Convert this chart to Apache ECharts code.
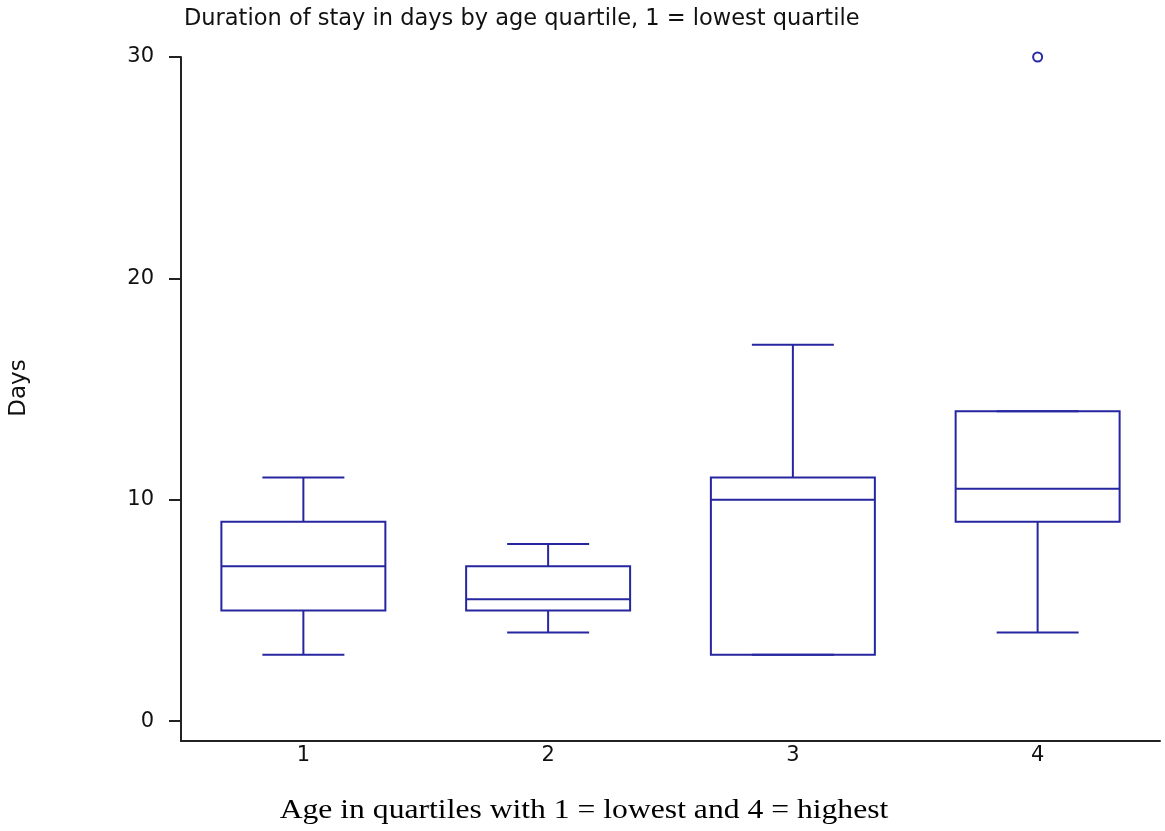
<!DOCTYPE html>
<html>
<head>
<meta charset="utf-8">
<script src="https://cdn.jsdelivr.net/npm/echarts@6/dist/echarts.min.js"></script>
<style>
html,body{margin:0;padding:0;background:#fff;}
#chart{width:1165px;height:831px;}
</style>
</head>
<body>
<div id="chart"></div>
<script>
// Data
var categories = ['1', '2', '3', '4'];
var minValues = [3, 4, 3, 4];
var q1Values = [5, 5, 3, 9];
var medianValues = [7, 5.5, 10, 10.5];
var q3Values = [9, 7, 11, 14];
var maxValues = [11, 8, 17, 14];
var outlierCats = ['4'];
var outlierValues = [30];
var yTickValues = [0, 10, 20, 30];

var boxData = categories.map(function (c, i) {
  return [i, minValues[i], q1Values[i], medianValues[i], q3Values[i], maxValues[i]];
});
var outlierData = outlierCats.map(function (c, i) {
  return [c, outlierValues[i]];
});

var lineColor = '#2626a0';
var chart = echarts.init(document.getElementById('chart'));

function renderBox(params, api) {
  var idx = api.value(0);
  var band = api.size([1, 0])[0];
  var halfW = band * 0.335;
  var capHalf = halfW / 2;
  var pMin = api.coord([idx, api.value(1)]);
  var pQ1 = api.coord([idx, api.value(2)]);
  var pMed = api.coord([idx, api.value(3)]);
  var pQ3 = api.coord([idx, api.value(4)]);
  var pMax = api.coord([idx, api.value(5)]);
  var x = pMed[0];
  var st = { stroke: lineColor, lineWidth: 2, fill: null };
  return {
    type: 'group',
    children: [
      { type: 'line', shape: { x1: x, y1: pMax[1], x2: x, y2: pQ3[1] }, style: st },
      { type: 'line', shape: { x1: x - capHalf, y1: pMax[1], x2: x + capHalf, y2: pMax[1] }, style: st },
      { type: 'line', shape: { x1: x, y1: pMin[1], x2: x, y2: pQ1[1] }, style: st },
      { type: 'line', shape: { x1: x - capHalf, y1: pMin[1], x2: x + capHalf, y2: pMin[1] }, style: st },
      { type: 'rect', shape: { x: x - halfW, y: pQ3[1], width: halfW * 2, height: pQ1[1] - pQ3[1] }, style: { stroke: lineColor, lineWidth: 2, fill: 'rgba(0,0,0,0)' } },
      { type: 'line', shape: { x1: x - halfW, y1: pMed[1], x2: x + halfW, y2: pMed[1] }, style: st }
    ]
  };
}

var option = {
  backgroundColor: '#fff',
  animation: false,
  title: [
    {
      text: 'Duration of stay in days by age quartile, 1 = lowest quartile',
      left: 179, top: 3,
      textStyle: { fontFamily: 'DejaVu Sans', fontSize: 22.5, fontWeight: 'normal', color: '#111' }
    }
  ],
  graphic: [
    {
      type: 'text', x: 19, y: 388, rotation: Math.PI / 2,
      style: { text: 'Days', fontFamily: 'DejaVu Sans', fontSize: 23, fill: '#111', textAlign: 'center', textVerticalAlign: 'middle' }
    },
    {
      type: 'text', x: 584, y: 811, scaleX: 1.13,
      style: { text: 'Age in quartiles with 1 = lowest and 4 = highest', fontFamily: 'Liberation Serif', fontSize: 28, fill: '#000', textAlign: 'center', textVerticalAlign: 'middle' }
    }
  ],
  grid: { left: 181, right: 5, top: 57, bottom: 90, containLabel: false },
  xAxis: {
    type: 'category',
    data: categories,
    boundaryGap: true,
    axisLine: { onZero: false, lineStyle: { color: '#222', width: 2 } },
    axisTick: { alignWithLabel: true, length: 4, lineStyle: { color: '#222', width: 2 } },
    axisLabel: { margin: 4, fontFamily: 'DejaVu Sans', fontSize: 21, color: '#111' },
    splitLine: { show: false }
  },
  yAxis: {
    type: 'value',
    min: -0.9,
    max: 30,
    axisLine: { show: true, lineStyle: { color: '#222', width: 2 } },
    axisTick: { show: true, length: 12, customValues: yTickValues, lineStyle: { color: '#222', width: 2 } },
    axisLabel: { margin: 27, customValues: yTickValues, fontFamily: 'DejaVu Sans', fontSize: 21, color: '#111' },
    splitLine: { show: false }
  },
  series: [
    {
      type: 'custom',
      renderItem: renderBox,
      data: boxData,
      encode: { x: 0, y: [1, 2, 3, 4, 5] },
      silent: true
    },
    {
      type: 'scatter',
      data: outlierData,
      symbol: 'emptyCircle',
      symbolSize: 9,
      clip: false,
      itemStyle: { color: '#2a2aa8', borderWidth: 2, opacity: 1 },
      silent: true
    }
  ]
};
chart.setOption(option);
</script>
</body>
</html>
